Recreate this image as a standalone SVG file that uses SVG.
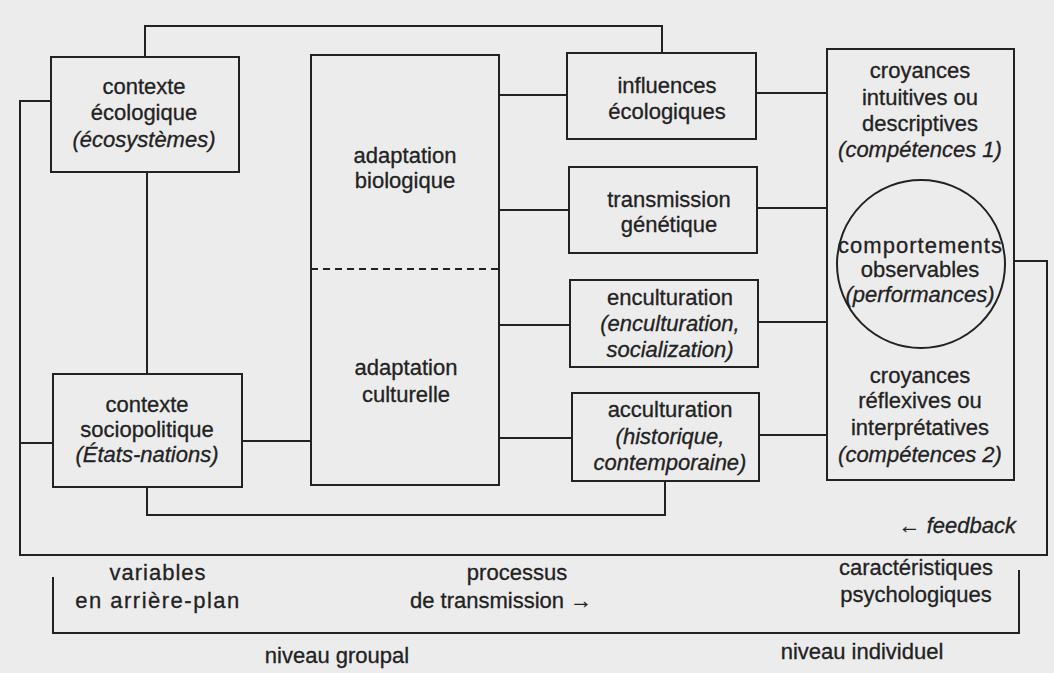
<svg xmlns="http://www.w3.org/2000/svg" width="1054" height="673" viewBox="0 0 1054 673">
<style>
.bg{fill:#ececec}
.box{fill:none;stroke:#222;stroke-width:2}
.ln{fill:none;stroke:#222;stroke-width:2}
.dash{fill:none;stroke:#222;stroke-width:2;stroke-dasharray:7 5}
text{font-family:"Liberation Sans",Arial,sans-serif;font-size:22px;fill:#222;stroke:#222;stroke-width:0.3;text-anchor:middle}
.it{font-style:italic}
.lab{font-size:22px}
</style>
<rect class="bg" x="0" y="0" width="1054" height="673"/>
<g id="connectors">
<path class="ln" d="M145,57 V26 H662 V53"/>
<path class="ln" d="M51,101 H20 V555 H1047 V261 H1014"/>
<path class="ln" d="M53,443 H20"/>
<path class="ln" d="M147,172 V374"/>
<path class="ln" d="M242,441 H311"/>
<path class="ln" d="M147,487 V515 H665 V481"/>
<path class="ln" d="M499,95 H567"/>
<path class="ln" d="M499,210 H569"/>
<path class="ln" d="M499,325 H570"/>
<path class="ln" d="M499,438 H572"/>
<path class="ln" d="M756,93 H827"/>
<path class="ln" d="M757,208 H827"/>
<path class="ln" d="M758,322 H827"/>
<path class="ln" d="M759,435 H827"/>
<path class="ln" d="M53,577 V633 H1019 V570"/>
</g>
<g id="contexte-ecologique">
<rect class="box" x="51" y="57" width="188" height="115"/>
<text x="144" y="94">contexte</text>
<text x="144" y="120">écologique</text>
<text class="it" x="144" y="147">(écosystèmes)</text>
</g>
<g id="contexte-sociopolitique">
<rect class="box" x="53" y="374" width="189" height="113"/>
<text x="147" y="412">contexte</text>
<text x="147" y="437">sociopolitique</text>
<text class="it" x="147" y="462">(États-nations)</text>
</g>
<g id="adaptation">
<rect class="box" x="311" y="55" width="188" height="430"/>
<line class="dash" x1="311" y1="269" x2="499" y2="269"/>
<text x="405" y="163">adaptation</text>
<text x="405" y="188">biologique</text>
<text x="406" y="375">adaptation</text>
<text x="406" y="402">culturelle</text>
</g>
<g id="influences">
<rect class="box" x="567" y="53" width="189" height="86"/>
<text x="667" y="93">influences</text>
<text x="667" y="119">écologiques</text>
</g>
<g id="transmission">
<rect class="box" x="569" y="167" width="188" height="86"/>
<text x="669" y="207">transmission</text>
<text x="669" y="232">génétique</text>
</g>
<g id="enculturation">
<rect class="box" x="570" y="280" width="188" height="87"/>
<text x="670" y="305">enculturation</text>
<text class="it" x="670" y="331">(enculturation,</text>
<text class="it" x="670" y="357">socialization)</text>
</g>
<g id="acculturation">
<rect class="box" x="572" y="393" width="187" height="88"/>
<text x="670" y="417">acculturation</text>
<text class="it" x="670" y="444">(historique,</text>
<text class="it" x="670" y="470">contemporaine)</text>
</g>
<g id="caracteristiques">
<rect class="box" x="827" y="49" width="187" height="431"/>
<text x="920" y="78">croyances</text>
<text x="920" y="105">intuitives ou</text>
<text x="920" y="131">descriptives</text>
<text class="it" x="920" y="157">(compétences 1)</text>
<circle class="box" cx="921" cy="264" r="84"/>
<text x="920" y="253" textLength="164" lengthAdjust="spacing">comportements</text>
<text x="920" y="277">observables</text>
<text class="it" x="920" y="302">(performances)</text>
<text x="920" y="383">croyances</text>
<text x="920" y="408">réflexives ou</text>
<text x="920" y="435">interprétatives</text>
<text class="it" x="920" y="462">(compétences 2)</text>
</g>
<g id="labels">
<text x="1016" y="533" style="text-anchor:end">← <tspan class="it">feedback</tspan></text>
<text class="lab" x="158" y="580" letter-spacing="1">variables</text>
<text class="lab" x="158" y="608" letter-spacing="1.5">en arrière-plan</text>
<text class="lab" x="517" y="580">processus</text>
<text class="lab" x="410" y="608" style="text-anchor:start">de transmission  →</text>
<text class="lab" x="916" y="575">caractéristiques</text>
<text class="lab" x="916" y="602">psychologiques</text>
<text class="lab" x="337" y="663">niveau groupal</text>
<text class="lab" x="862" y="659">niveau individuel</text>
</g>
</svg>
